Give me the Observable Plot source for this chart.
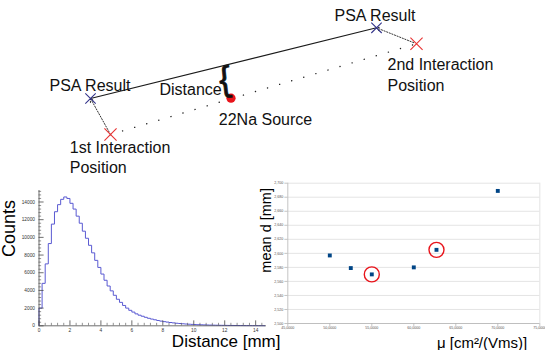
<!DOCTYPE html>
<html><head><meta charset="utf-8">
<script src="https://cdn.jsdelivr.net/npm/d3@7"></script>
<script src="https://cdn.jsdelivr.net/npm/@observablehq/plot@0.6"></script>
<style>
body{margin:0;background:#fff;}
#root{position:relative;width:545px;height:350px;overflow:hidden;}
#root svg{position:absolute;background:transparent;overflow:visible;}
</style></head><body><div id="root"></div>
<script>
// ---------- top diagram (diagram coordinates) ----------
const psaResults = [{x: 90, y: 98}, {x: 376, y: 27.3}];
const interactions = [{x: 110, y: 134}, {x: 416, y: 43.3}];
const sourcePoint = [{x: 230.5, y: 97.7}];
const diagramLabels = [
  {text: "PSA Result", x: 49, y: 90},
  {text: "PSA Result", x: 334, y: 20.7},
  {text: "2nd Interaction", x: 387, y: 69.3},
  {text: "Position", x: 387, y: 90.7},
  {text: "Distance", x: 159, y: 94},
  {text: "22Na Source", x: 218.3, y: 124},
  {text: "1st Interaction", x: 69.3, y: 152.7},
  {text: "Position", x: 69.3, y: 172}
];
const braceMark = [{text: "{", x: 224.5, y: 79}];

// ---------- histogram ----------
const histBinWidthMm = 0.2;
const histCounts = [
  2000, 4800, 7000, 9300, 11500, 12900, 13700, 14300, 14570, 14400,
  13850, 13200, 12400, 11600, 10700, 9900, 9100, 8250, 7400, 6600,
  5850, 5150, 4500, 3950, 3450, 3000, 2650, 2300, 2000, 1750,
  1550, 1350, 1200, 1080, 960, 850, 760, 680, 600, 530,
  470, 420, 370, 330, 290, 260, 230, 200, 180, 160,
  140, 125, 110, 100, 90, 80, 72, 65, 58, 52,
  47, 42, 38, 34, 31, 28, 25, 23, 21, 19,
  17, 15, 14
];
const histXTicks = [0, 2, 4, 6, 8, 10, 12, 14];
const histYTicks = [0, 2000, 4000, 6000, 8000, 10000, 12000, 14000];
const histXLabel = "Distance [mm]";
const histYLabel = "Counts";

// ---------- scatter ----------
const mobility = [50, 52.5, 55, 60, 62.7, 70];
const meanDistance = [2.597, 2.579, 2.570, 2.580, 2.605, 2.689];
const circledMobility = [55, 62.7];
const scatterXTicks = [45, 50, 55, 60, 65, 70, 75];
const scatterYTicks = [2.5, 2.52, 2.54, 2.56, 2.58, 2.6, 2.62, 2.64, 2.66, 2.68, 2.7];
const scatterXLabel = "μ [cm²/(Vms)]";
const scatterYLabel = "mean d [mm]";

const FONT = '"Liberation Sans", Arial, sans-serif';
const root = document.getElementById("root");

// ---------- diagram ----------
const links = [
  {x1: interactions[0].x, y1: interactions[0].y, x2: psaResults[0].x, y2: psaResults[0].y},
  {x1: interactions[1].x, y1: interactions[1].y, x2: psaResults[1].x, y2: psaResults[1].y}
];
const diagram = Plot.plot({
  width: 545, height: 178, margin: 0,
  x: {domain: [0, 545], range: [0, 545], axis: null},
  y: {domain: [0, 178], range: [0, 178], axis: null},
  style: {background: "transparent", fontFamily: FONT},
  marks: [
    Plot.line(psaResults, {x: "x", y: "y", stroke: "#1a1a1a", strokeWidth: 1.1}),
    Plot.line(interactions, {x: "x", y: "y", stroke: "#222", strokeWidth: 1.4, strokeDasharray: "0.1,12.5", strokeLinecap: "round"}),
    Plot.arrow(links, {x1: "x1", y1: "y1", x2: "x2", y2: "y2", stroke: "#333", strokeWidth: 1, strokeDasharray: "1.2,1.6", headLength: 6, insetStart: 3}),
    Plot.dot(psaResults, {x: "x", y: "y", symbol: "times", r: 4.8, stroke: "#34348a", strokeWidth: 1.1}),
    Plot.dot(interactions, {x: "x", y: "y", symbol: "times", r: 5.6, stroke: "#e83232", strokeWidth: 1.1}),
    Plot.dot(sourcePoint, {x: "x", y: "y", r: 4.6, fill: "#e8141b"}),
    Plot.text(braceMark, {x: "x", y: "y", text: "text", fontSize: 35, rotate: -6, fill: "#111", stroke: "#111", strokeWidth: 0.8}),
    Plot.text(diagramLabels, {x: "x", y: "y", text: "text", textAnchor: "start", lineAnchor: "bottom", fontSize: 16, fill: "#111"})
  ]
});
diagram.style.left = "0px"; diagram.style.top = "0px";
root.appendChild(diagram);

// ---------- histogram ----------
const histEdges = histCounts.map((_, i) => +(i * histBinWidthMm).toFixed(2));
const stepPts = [{x: 0, y: 0}]
  .concat(histCounts.map((c, i) => ({x: histEdges[i], y: c})))
  .concat([{x: +(histEdges[histEdges.length - 1] + histBinWidthMm).toFixed(2), y: histCounts[histCounts.length - 1]}]);
const histYMax = 15300, histXMax = 14.7;
const minorY = d3.range(0, histYMax, 400).filter(v => v % 2000 !== 0);
const minorX = d3.range(0, histXMax, 0.4).map(v => +v.toFixed(2)).filter(v => Math.abs(v / 2 - Math.round(v / 2)) > 1e-6);
const AX = "#4a4a4a";
const hist = Plot.plot({
  width: 282, height: 172,
  marginLeft: 38.5, marginRight: 16, marginTop: 12, marginBottom: 24.7,
  x: {domain: [0, histXMax], axis: null},
  y: {domain: [0, histYMax], axis: null},
  style: {background: "transparent", fontFamily: FONT},
  marks: [
    Plot.line(stepPts, {x: "x", y: "y", curve: "step-after", stroke: "#5a5ad2", strokeWidth: 1}),
    Plot.ruleX([0], {y1: 0, y2: histYMax, stroke: AX, strokeWidth: 0.8}),
    Plot.ruleY([0], {x1: 0, x2: histXMax, stroke: AX, strokeWidth: 0.8}),
    Plot.ruleY(histYTicks, {x1: 0, x2: 0.33, stroke: AX, strokeWidth: 0.8}),
    Plot.ruleY(minorY, {x1: 0, x2: 0.17, stroke: AX, strokeWidth: 0.6}),
    Plot.ruleX(histXTicks, {y1: 0, y2: 560, stroke: AX, strokeWidth: 0.8}),
    Plot.ruleX(minorX, {y1: 0, y2: 280, stroke: AX, strokeWidth: 0.6}),
    Plot.text(histYTicks, {x: 0, y: d => d, text: d => String(d), textAnchor: "end", dx: -4, fontSize: 4.8, fill: "#333"}),
    Plot.text(histXTicks, {x: d => d, y: 0, text: d => String(d), lineAnchor: "top", dy: 2.5, fontSize: 4.8, fill: "#333"}),
    Plot.text([histYLabel], {frameAnchor: "left", text: d => d, rotate: -90, textAnchor: "middle", fontSize: 18, dx: -30, dy: -29.7, fill: "#000"}),
    Plot.text([histXLabel], {frameAnchor: "bottom-right", text: d => d, textAnchor: "end", lineAnchor: "bottom", fontSize: 17, dx: 14, dy: 21.2, fill: "#000"})
  ]
});
hist.style.left = "0px"; hist.style.top = "178px";
root.appendChild(hist);

// ---------- scatter ----------
const pts = mobility.map((m, i) => ({mu: m, d: meanDistance[i]}));
const circled = pts.filter(p => circledMobility.includes(p.mu));
const comma = f => v => f(v).replace(".", ",");
const GRID = "#dddddd";
const scatter = Plot.plot({
  width: 285, height: 175,
  marginLeft: 27.3, marginRight: 5.7, marginTop: 7.7, marginBottom: 27,
  x: {domain: [45, 75], axis: null},
  y: {domain: [2.5, 2.7], axis: null},
  style: {background: "transparent", fontFamily: FONT},
  marks: [
    Plot.ruleY(scatterYTicks, {x1: 45, x2: 75, stroke: GRID, strokeWidth: 0.8}),
    Plot.ruleX([75], {y1: 2.5, y2: 2.7, stroke: GRID, strokeWidth: 0.8}),
    Plot.ruleX([45], {y1: 2.5, y2: 2.7, stroke: "#b5b5b5", strokeWidth: 0.8}),
    Plot.ruleY([2.5], {x1: 45, x2: 75, stroke: "#b5b5b5", strokeWidth: 0.8}),
    Plot.ruleY(scatterYTicks, {x1: 44.65, x2: 45, stroke: "#b5b5b5", strokeWidth: 0.8}),
    Plot.ruleX(scatterXTicks, {y1: 2.4958, y2: 2.5, stroke: "#b5b5b5", strokeWidth: 0.8}),
    Plot.text(scatterYTicks, {x: 45, y: d => d, text: comma(d3.format(".3f")), textAnchor: "end", dx: -4.5, fontSize: 3.6, fill: "#555"}),
    Plot.text(scatterXTicks, {x: d => d, y: 2.5, text: comma(d3.format(".4f")), lineAnchor: "top", dy: 3, fontSize: 3.6, fill: "#555"}),
    Plot.dot(pts, {x: "mu", y: "d", symbol: "square", r: 2.2, fill: "#004586"}),
    Plot.dot(circled, {x: "mu", y: "d", r: 7.5, stroke: "#e8141b", strokeWidth: 1.4}),
    Plot.text([scatterYLabel], {frameAnchor: "left", text: d => d, rotate: -90, textAnchor: "middle", fontSize: 14.5, dx: -21.8, dy: -23, fill: "#000"}),
    Plot.text([scatterXLabel], {frameAnchor: "bottom-right", text: d => d, textAnchor: "end", lineAnchor: "bottom", fontSize: 15, dx: -12.6, dy: 24, fill: "#000"})
  ]
});
scatter.style.left = "260px"; scatter.style.top = "175px";
root.appendChild(scatter);
</script>
</body></html>
